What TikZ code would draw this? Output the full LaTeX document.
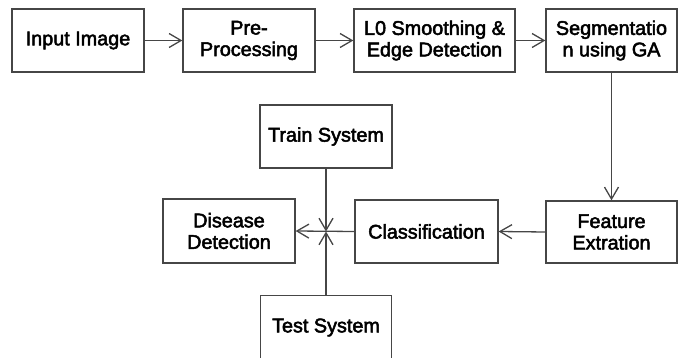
\documentclass[tikz,border=0pt]{standalone}
\usepackage{fontspec}
\newfontfamily\boxfont[FakeBold=2.5]{Liberation Sans}
\usetikzlibrary{arrows.meta}
\definecolor{linegray}{RGB}{70,70,70}
\tikzset{
  blk/.style={draw=linegray, line width=1.3pt, fill=white, align=center, inner sep=0pt,
    font=\boxfont\fontsize{19.8}{21.5}\selectfont, minimum height=63pt},
  arr/.style={draw=linegray, line width=1.3pt, -{Straight Barb[length=12pt,width=14pt,line width=1.3pt]}},
  con/.style={draw=linegray, line width=1.3pt}
}
\begin{document}
\begin{tikzpicture}[x=1pt,y=-1pt]
\useasboundingbox (0,0) rectangle (683,358);
\clip (0,0) rectangle (683,358);
\node[blk, minimum width=132pt] (inp) at (78,40.5) {Input Image};
\node[blk, minimum width=132pt] (pre) at (249,40.5) {Pre-\\Processing};
\node[blk, minimum width=161pt] (l0) at (434.5,40.5) {L0 Smoothing \&\\Edge Detection};
\node[blk, minimum width=131pt] (seg) at (611.5,40.5) {Segmentatio\\n using GA};
\node[blk, minimum width=132pt] (train) at (326,136.5) {Train System};
\node[blk, minimum width=132pt, minimum height=64pt] (dis) at (229,231) {Disease\\Detection};
\node[blk, minimum width=143pt] (cls) at (426.5,231.5) {Classification};
\node[blk, minimum width=131pt, minimum height=62pt] (feat) at (611.5,232) {Feature\\Extration};
\node[blk, minimum width=131pt, minimum height=64pt] (test) at (326,327.5) {\raisebox{4pt}{Test System}};
\coordinate (j) at (train.south |- cls.west);
\draw[arr] (inp.east) -- (pre.west);
\draw[arr] (pre.east) -- (l0.west);
\draw[arr] (l0.east) -- (seg.west);
\draw[arr] (seg.south) -- (feat.north);
\draw[arr] (feat.west) -- (cls.east);
\draw[arr] (cls.west) -- (dis.east);
\draw[arr] (train.south) -- (j);
\draw[arr] (test.north) -- (j);
\end{tikzpicture}
\end{document}
